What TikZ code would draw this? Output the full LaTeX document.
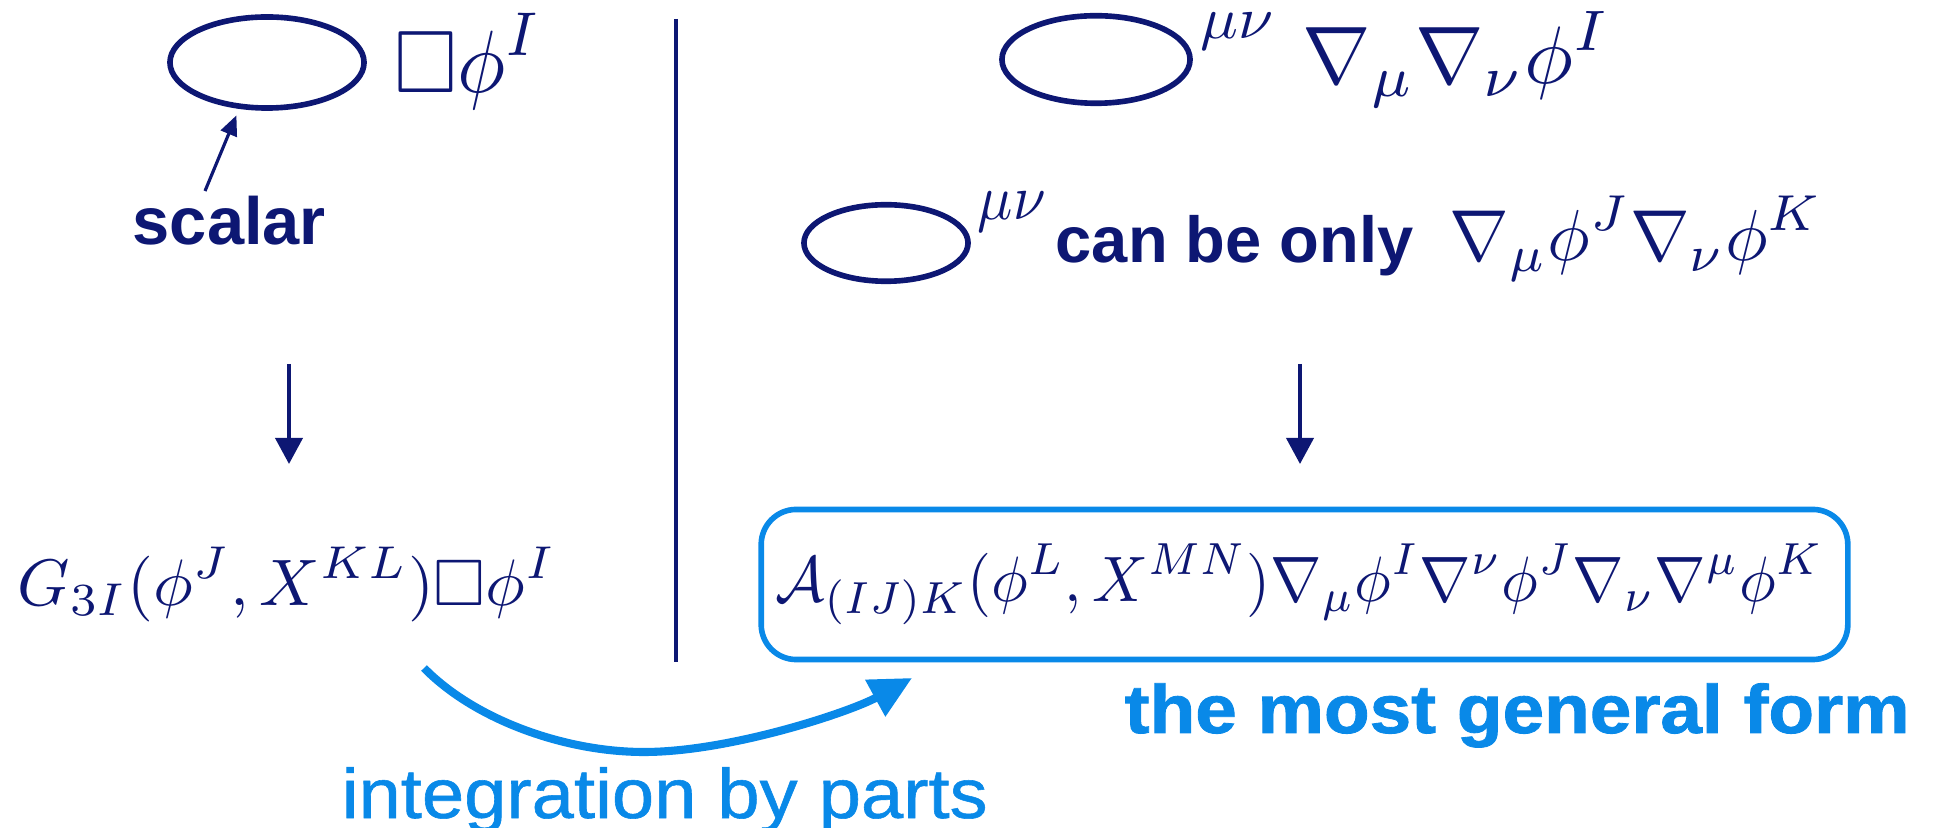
\documentclass[tikz,border=0pt]{standalone}
\usepackage[no-math]{fontspec}
\usepackage{amssymb}
\usepackage{graphicx}
\usetikzlibrary{arrows.meta,shapes.geometric}
\newfontfamily\arialf{Liberation Sans}
\newfontfamily\arialmed{Liberation Sans}[FakeBold=0.8]
\newfontfamily\arialheavy{Liberation Sans}[BoldFeatures={FakeBold=1.2}]
\definecolor{navy}{RGB}{13,23,115}
\definecolor{lblue}{RGB}{9,137,232}
\tikzset{
  oval/.style={draw=navy, line width=1.6pt, ellipse, inner sep=0pt},
  fml/.style={anchor=south west, inner sep=0pt, text=navy},
  lbl/.style={anchor=base west, inner sep=0pt},
  downarrow/.style={draw=navy, line width=1.1pt, -{Triangle[length=0.26cm,width=0.27cm]}},
  thinarrow/.style={draw=navy, line width=0.9pt, -{Triangle[length=0.2cm,width=0.17cm]}},
  ibparrow/.style={draw=lblue, line width=2.3pt, -{Triangle[length=0.42cm,width=0.40cm]}},
  genbox/.style={draw=lblue, line width=1.6pt, rounded corners=0.35cm, inner sep=0pt,
                 minimum width=10.86cm, minimum height=1.50cm},
}
\begin{document}
\begin{tikzpicture}[x=0.01cm, y=-0.01cm]
\useasboundingbox (0,0) rectangle (1939,828);

% left column
\node[oval, minimum width=1.94cm, minimum height=0.91cm] (e1) at (267,62.5) {};
\node[fml] (f1) at (394,110) {\resizebox*{1.48cm}{0.96cm}{$\displaystyle\Box\phi^{I}$}};
\node[lbl, text=navy] (scalar) at (132,245) {\arialf\bfseries\fontsize{19}{22}\selectfont scalar};
\coordinate (scA) at (205,191);
\draw[thinarrow, shorten >=0.07cm] (scA) -- (e1.-121);

\coordinate (la1) at (289,364);
\coordinate (la2) at (289,464);
\draw[downarrow] (la1) -- (la2);

\node[fml] (f5) at (17,623) {\resizebox*{5.38cm}{0.75cm}{$\displaystyle G_{3I}(\phi^{J},X^{KL})\Box\phi^{I}$}};

% divider
\coordinate (dv1) at (676,19);
\coordinate (dv2) at (676,662);
\draw[navy, line width=1.1pt] (dv1) -- (dv2);

% right column
\node[oval, minimum width=1.88cm, minimum height=0.875cm] (e3) at (1096,59.5) {};
\node[fml] (f2a) at (1200,51) {\resizebox*{0.73cm}{0.37cm}{$\mu\nu$}};
\node[fml] (f2b) at (1302,108) {\resizebox*{3.08cm}{0.96cm}{$\displaystyle\nabla_{\mu}\nabla_{\nu}\phi^{I}$}};

\node[oval, minimum width=1.64cm, minimum height=0.765cm] (e2) at (886,243) {};
\node[fml] (f3) at (977,233) {\resizebox*{0.68cm}{0.40cm}{$\mu\nu$}};
\node[lbl, text=navy] (canbe) at (1055,263) {\arialf\bfseries\fontsize{18.5}{22}\selectfont can be only};
\node[fml] (f4) at (1449,282) {\resizebox*{3.73cm}{0.85cm}{$\displaystyle\nabla_{\mu}\phi^{J}\nabla_{\nu}\phi^{K}$}};

\coordinate (ra1) at (1300,364);
\coordinate (ra2) at (1300,464);
\draw[downarrow] (ra1) -- (ra2);

\node[genbox] (box) at (1304.5,584.5) {};
\node[fml] (f6) at (775,625) {\resizebox*{10.47cm}{0.80cm}{$\displaystyle\mathcal{A}_{(IJ)K}(\phi^{L},X^{MN})\nabla_{\mu}\phi^{I}\nabla^{\nu}\phi^{J}\nabla_{\nu}\nabla^{\mu}\phi^{K}$}};

\node[lbl, text=lblue] (gen) at (1124,733) {\arialheavy\bfseries\fontsize{19.5}{22}\selectfont\scalebox{1.09}[1]{the most general form}};

% integration by parts
\coordinate (ibpS) at (424,668);
\coordinate (ibpM) at (644,752);
\coordinate (ibpE) at (912,678);
\draw[ibparrow] (ibpS) .. controls (475,720) and (565,752) .. (ibpM) .. controls (730,752) and (850,712) .. (ibpE);
\node[lbl, text=lblue] (ibp) at (341,818) {\arialmed\fontsize{20}{22}\selectfont\scalebox{1.08}[1]{integration by parts}};
\end{tikzpicture}
\end{document}
